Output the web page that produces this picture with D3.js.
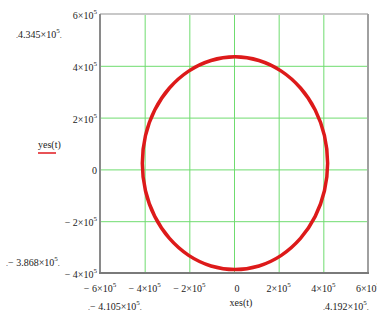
<!DOCTYPE html>
<html>
<head>
<meta charset="utf-8">
<script src="https://cdn.jsdelivr.net/npm/d3@7"></script>
<style>
  html, body { margin: 0; padding: 0; background: #fff; }
  svg { display: block; font-family: "Liberation Serif", "DejaVu Serif", serif; }
</style>
</head>
<body>
<svg id="chart" width="377" height="325"></svg>
<script>
// Orbit trace xes(t), yes(t) in metres (sampled around one revolution)
const orbitX = [4.192e5, 4.050e5, 3.636e5, 2.977e5, 2.118e5, 1.117e5, 0.044e5, -1.030e5,
                -2.031e5, -2.890e5, -3.549e5, -3.964e5, -4.105e5, -3.964e5, -3.549e5, -2.890e5,
                -2.031e5, -1.030e5, 0.044e5, 1.117e5, 2.118e5, 2.977e5, 3.636e5, 4.050e5];
const orbitY = [0.239e5, 1.301e5, 2.292e5, 3.142e5, 3.795e5, 4.205e5, 4.345e5, 4.205e5,
                3.795e5, 3.142e5, 2.292e5, 1.301e5, 0.239e5, -0.824e5, -1.815e5, -2.665e5,
                -3.318e5, -3.728e5, -3.868e5, -3.728e5, -3.318e5, -2.665e5, -1.815e5, -0.824e5];

// Axis ticks and the trace's extreme values
const xTicks = [-6e5, -4e5, -2e5, 0, 2e5, 4e5, 6e5];
const yTicks = [-4e5, -2e5, 0, 2e5, 4e5, 6e5];
const xLimitLabels = ["\u2212 4.105", "4.192"];
const yLimitLabels = ["4.345", "\u2212 3.868"];
const xAxisName = "xes(t)";
const yAxisName = "yes(t)";

const svg = d3.select("#chart");
const plot = { left: 100, right: 368, top: 14, bottom: 273 };

const x = d3.scaleLinear().domain([-6e5, 6e5]).range([plot.left, plot.right]);
const y = d3.scaleLinear().domain([-4e5, 6e5]).range([plot.bottom, plot.top]);

const gridColor = "#6fdc6f";

// Gridlines drawn with d3 axes
svg.append("g")
  .attr("transform", `translate(0,${plot.bottom})`)
  .call(d3.axisBottom(x).tickValues(xTicks).tickSize(-(plot.bottom - plot.top)).tickFormat(""))
  .call(g => g.select(".domain").remove())
  .call(g => g.selectAll("line").attr("stroke", gridColor).attr("stroke-width", 1));

svg.append("g")
  .attr("transform", `translate(${plot.left},0)`)
  .call(d3.axisLeft(y).tickValues(yTicks).tickSize(-(plot.right - plot.left)).tickFormat(""))
  .call(g => g.select(".domain").remove())
  .call(g => g.selectAll("line").attr("stroke", gridColor).attr("stroke-width", 1));

// Plot frame
const frame = svg.append("g").attr("fill", "none").attr("stroke-width", 2);
frame.append("line").attr("x1", plot.left).attr("x2", plot.right).attr("y1", plot.top).attr("y2", plot.top).attr("stroke", "#c8c8c8");
frame.append("line").attr("x1", plot.right).attr("x2", plot.right).attr("y1", plot.top).attr("y2", plot.bottom).attr("stroke", "#a0a0a0");
frame.append("line").attr("x1", plot.left).attr("x2", plot.left).attr("y1", plot.top).attr("y2", plot.bottom).attr("stroke", "#8a8a8a");
frame.append("line").attr("x1", plot.left - 1).attr("x2", plot.right + 1).attr("y1", plot.bottom).attr("y2", plot.bottom).attr("stroke", "#7a7a7a");

// Writes "m×10⁵" style labels with a raised exponent
function sciLabel(sel, mantissa, exp) {
  sel.append("tspan").text(mantissa + "\u00d710");
  sel.append("tspan").attr("font-size", 7).attr("dy", -5).text(exp);
}
function tickText(v) {
  const m = v / 1e5;
  return m < 0 ? "\u2212 " + Math.abs(m) : String(m);
}

const labels = svg.append("g").attr("fill", "#222").attr("font-size", 10);

// y tick labels
yTicks.forEach(v => {
  const t = labels.append("text").attr("x", plot.left - 3).attr("y", y(v) + 5).attr("text-anchor", "end");
  if (v === 0) t.text("0"); else sciLabel(t, tickText(v), "5");
});

// x tick labels
xTicks.forEach(v => {
  const t = labels.append("text").attr("x", x(v) + (v === 0 ? 3 : 0)).attr("y", 292).attr("text-anchor", "middle");
  if (v === 0) t.text("0"); else sciLabel(t, tickText(v), "5");
});

// Limit values of the trace
function limitLabel(px, py, mantissa) {
  const t = labels.append("text").attr("x", px).attr("y", py);
  t.append("tspan").attr("font-size", 8).text(".");
  sciLabel(t, mantissa, "5");
  t.append("tspan").attr("dy", 5).attr("font-size", 8).text(".");
}
limitLabel(16, 38, yLimitLabels[0]);
limitLabel(6, 266, yLimitLabels[1]);
limitLabel(88, 310, xLimitLabels[0]);
limitLabel(323, 310, xLimitLabels[1]);

// Axis names
labels.append("text").attr("x", 241).attr("y", 306).attr("text-anchor", "middle").text(xAxisName);
labels.append("text").attr("x", 38).attr("y", 148).text(yAxisName);
svg.append("line").attr("x1", 38).attr("x2", 56).attr("y1", 153).attr("y2", 153)
  .attr("stroke", "#e0191e").attr("stroke-width", 1.5);

// Orbit trace
const pts = orbitX.map((v, i) => [v, orbitY[i]]);
const line = d3.line().x(d => x(d[0])).y(d => y(d[1])).curve(d3.curveCatmullRomClosed);
svg.append("path")
  .attr("d", line(pts))
  .attr("fill", "none")
  .attr("stroke", "#dd1a1a")
  .attr("stroke-width", 3.5);
</script>
</body>
</html>
